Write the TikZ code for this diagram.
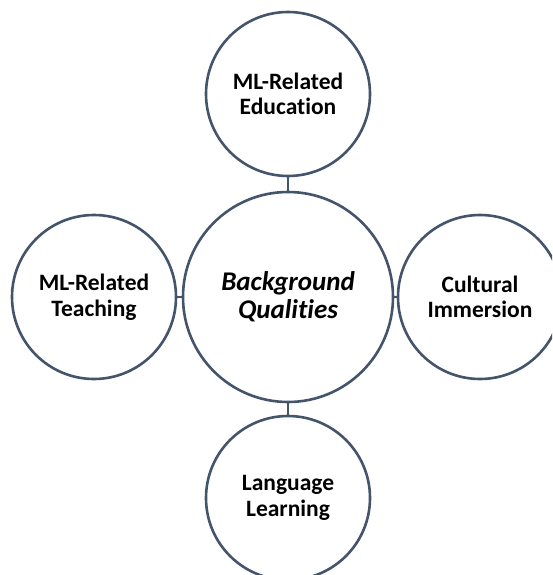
\documentclass[tikz,border=0pt]{standalone}
\usepackage{fontspec}
\setmainfont[Ligatures={NoCommon,NoContextual}]{Carlito}
\usepackage{tikz}
\definecolor{slate}{HTML}{44546A}
\tikzstyle{quality}=[circle,draw=slate,line width=2.6pt,fill=white,text=black,align=center,
  minimum size=164pt,inner sep=0pt,font=\bfseries\fontsize{23.5}{25.5}\selectfont]
\tikzstyle{hub}=[quality,minimum size=210pt,font=\bfseries\itshape\fontsize{27}{28}\selectfont]
\tikzstyle{link}=[draw=slate,line width=2.6pt]

\begin{document}
\begin{tikzpicture}[x=1pt,y=-1pt]
  \path[use as bounding box,clip] (0,0) rectangle (552,575);
  \fill[white] (0,0) rectangle (552,575);

  \node[hub] (BQ) at (288,297) {Background\\Qualities};
  \node[quality] (Edu) at (288,94) {ML-Related\\Education};
  \node[quality] (Teach) at (94,297) {ML-Related\\Teaching};
  \node[quality] (Cult) at (480,297) {Cultural\\Immersion};
  \node[quality] (Lang) at (288,498) {Language\\Learning};

  \draw[link] (BQ)--(Edu); \draw[link] (BQ)--(Teach);
  \draw[link] (BQ)--(Cult); \draw[link] (BQ)--(Lang);
\end{tikzpicture}
\end{document}
